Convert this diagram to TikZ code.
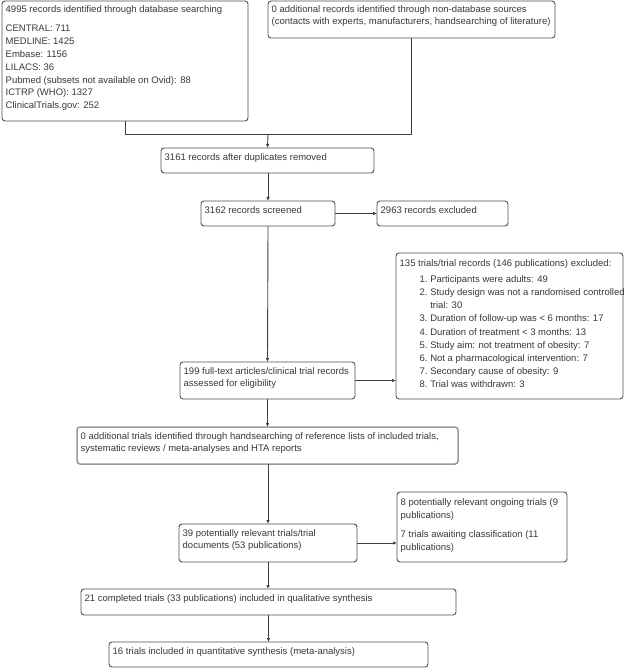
\documentclass[tikz,border=0pt]{standalone}
\usepackage{fontspec}
\setmainfont{Liberation Sans}
\usetikzlibrary{arrows.meta}
\definecolor{boxc}{HTML}{505050}
\definecolor{hbox}{HTML}{9A9A9A}
\definecolor{linec}{HTML}{404040}
\definecolor{txtc}{HTML}{383838}
\begin{document}
\begin{tikzpicture}[x=1pt,y=-1pt,
  box/.style={draw=boxc,line width=0.9pt,rounded corners=3pt,inner sep=0pt,outer sep=0pt,fill=white},
  hboxst/.style={draw=hbox,line width=1.5pt,rounded corners=3pt,inner sep=0pt,outer sep=0pt,fill=white},
  txt/.style={anchor=north west,inner xsep=3.5pt,inner ysep=5pt,align=left,text=txtc,font=\fontsize{9.5}{12.9}\selectfont},
  conn/.style={draw=linec,line width=0.9pt},
  arr/.style={conn,-{Latex[length=4pt,width=3.5pt]}}]
\useasboundingbox (0,0) rectangle (625,668);
\fill[white] (0,0) rectangle (625,668);
% boxes
\node[box,minimum width=246pt,minimum height=120pt] (A) at (125,61) {};
\node[txt,inner ysep=4pt] (At) at (A.north west) {4995 records identified through database searching\\[6.5pt]
CENTRAL: 711\\MEDLINE: 1425\\Embase: 1156\\LILACS: 36\\Pubmed (subsets not available on Ovid): 88\\ICTRP (WHO): 1327\\ClinicalTrials.gov: 252};
\node[box,minimum width=287pt,minimum height=37pt] (B) at (411.5,19.5) {};
\node[txt,inner ysep=4pt] (Bt) at (B.north west) {0 additional records identified through non-database sources\\(contacts with experts, manufacturers, handsearching of literature)};
\node[box,minimum width=213pt,minimum height=25pt] (C) at (267.5,160.5) {};
\node[txt] (Ct) at (C.north west) {3161 records after duplicates removed};
\node[box,minimum width=134pt,minimum height=25pt] (D) at (268,213.5) {};
\node[txt] (Dt) at (D.north west) {3162 records screened};
\node[box,minimum width=131pt,minimum height=25pt] (E) at (442.5,213.5) {};
\node[txt] (Et) at (E.north west) {2963 records excluded};
\node[box,minimum width=227pt,minimum height=146pt] (F) at (509.5,326) {};
\node[txt,inner ysep=6.5pt,font=\fontsize{9.5}{13.2}\selectfont] (Ft) at (F.north west) {135 trials/trial records (146 publications) excluded:\\[2.5pt]
\hspace*{20pt}1.\ Participants were adults: 49\\
\hspace*{20pt}2.\ Study design was not a randomised controlled\\
\hspace*{20pt}\phantom{2.\ }trial: 30\\
\hspace*{20pt}3.\ Duration of follow-up was < 6 months: 17\\
\hspace*{20pt}4.\ Duration of treatment < 3 months: 13\\
\hspace*{20pt}5.\ Study aim: not treatment of obesity: 7\\
\hspace*{20pt}6.\ Not a pharmacological intervention: 7\\
\hspace*{20pt}7.\ Secondary cause of obesity: 9\\
\hspace*{20pt}8.\ Trial was withdrawn: 3};
\node[box,minimum width=175pt,minimum height=37pt] (G) at (267.5,380.5) {};
\node[txt] (Gt) at (G.north west) {199 full-text articles/clinical trial records\\assessed for eligibility};
\node[hboxst,minimum width=381pt,minimum height=37pt] (H) at (267.5,445.5) {};
\node[txt] (Ht) at (H.north west) {0 additional trials identified through handsearching of reference lists of included trials,\\systematic reviews / meta-analyses and HTA reports};
\node[box,minimum width=178pt,minimum height=38pt] (I) at (268,543) {};
\node[txt] (It) at (I.north west) {39 potentially relevant trials/trial\\documents (53 publications)};
\node[box,minimum width=170pt,minimum height=70pt] (J) at (482,527) {};
\node[txt,inner ysep=6.5pt] (Jt) at (J.north west) {8 potentially relevant ongoing trials (9\\publications)\\[6pt]7 trials awaiting classification (11\\publications)};
\node[box,minimum width=375pt,minimum height=26pt] (K) at (268.5,602) {};
\node[txt] (Kt) at (K.north west) {21 completed trials (33 publications) included in qualitative synthesis};
\node[box,minimum width=319pt,minimum height=25pt] (L) at (268.5,654.5) {};
\node[txt] (Lt) at (L.north west) {16 trials included in quantitative synthesis (meta-analysis)};
% connectors
\coordinate (m) at (268,134);
\draw[conn] (A.south) |- (m);
\draw[conn] (B.south) |- (m);
\draw[arr] (m) -- (C.north);
\draw[arr] (C.south -| D.north) -- (D.north);
\draw[arr] (D.east) -- (E.west);
\draw[arr] (D.south) -- (G.north);
\draw[arr] (G.east) -- (G.east -| F.west);
\draw[arr] (G.south) -- (G.south |- H.north);
\draw[arr] (H.south -| I.north) -- (I.north);
\draw[arr] (I.east) -- (I.east -| J.west);
\draw[arr] (I.south) -- (I.south |- K.north);
\draw[arr] (K.south) -- (K.south |- L.north);
\end{tikzpicture}
\end{document}
